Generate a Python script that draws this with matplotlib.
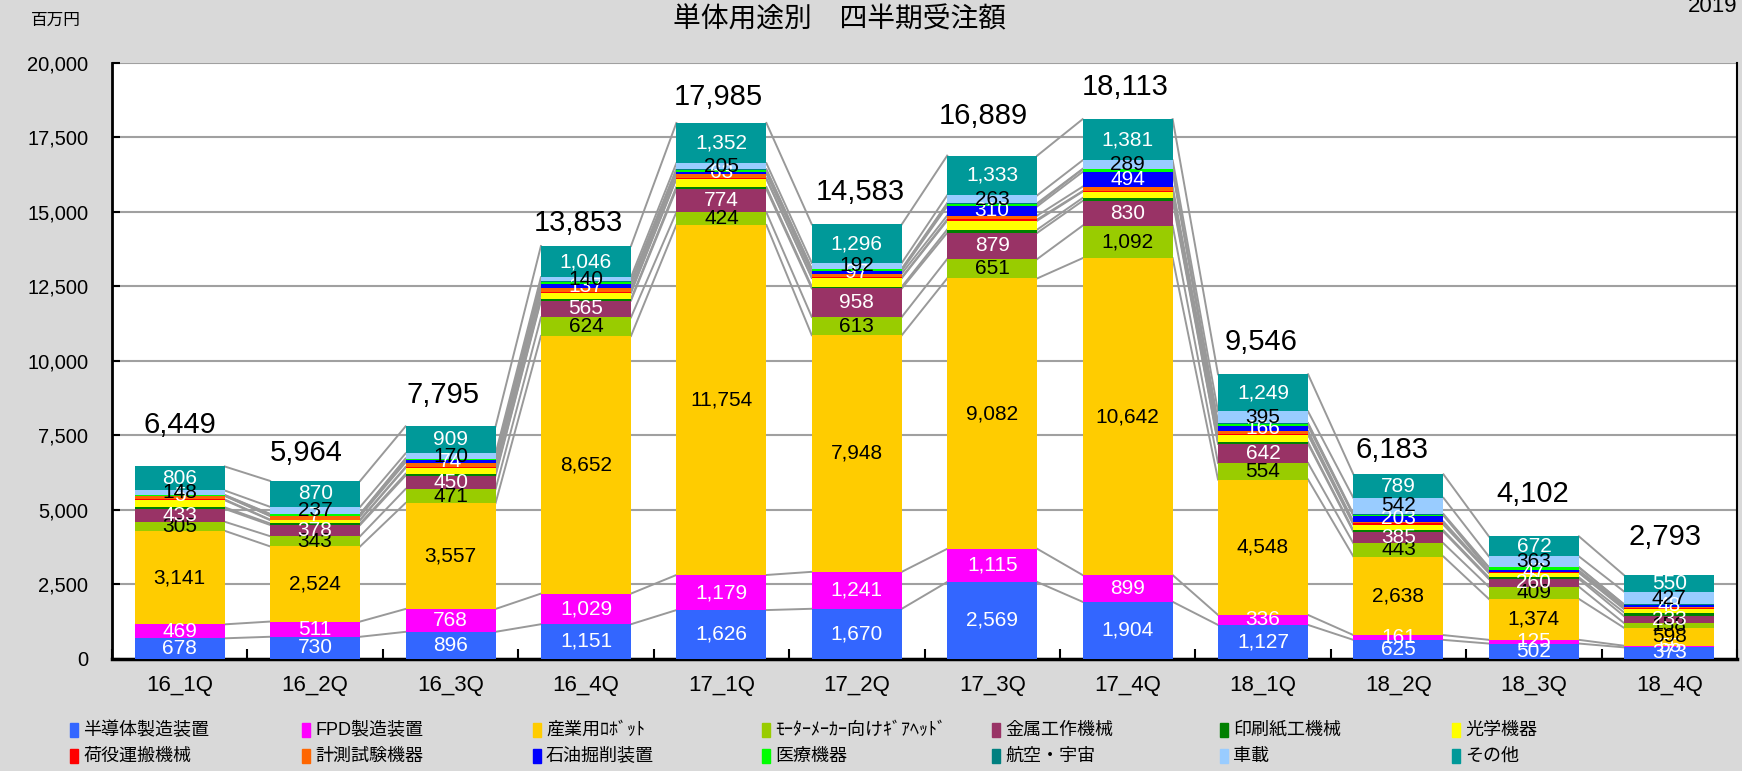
import numpy as np
import matplotlib.pyplot as plt
from matplotlib.patches import Rectangle
from matplotlib.ticker import FuncFormatter, MultipleLocator

plt.rcParams['font.family'] = ['Liberation Sans', 'Noto Sans CJK JP', 'DejaVu Sans']

quarters = ['16_1Q', '16_2Q', '16_3Q', '16_4Q', '17_1Q', '17_2Q',
            '17_3Q', '17_4Q', '18_1Q', '18_2Q', '18_3Q', '18_4Q']

# stacked series, bottom to top (values in 百万円)
semi = [678, 730, 896, 1151, 1626, 1670, 2569, 1904, 1127, 625, 502, 373]
fpd = [469, 511, 768, 1029, 1179, 1241, 1115, 899, 336, 161, 125, 55]
robot = [3141, 2524, 3557, 8652, 11754, 7948, 9082, 10642, 4548, 2638, 1374, 598]
motor = [305, 343, 471, 624, 424, 613, 651, 1092, 554, 443, 409, 158]
metal = [433, 378, 450, 565, 774, 958, 879, 830, 642, 385, 260, 233]
printing = [50, 50, 60, 50, 80, 60, 110, 100, 50, 47, 55, 126]
optical = [240, 110, 200, 215, 270, 290, 300, 210, 255, 190, 150, 110]
handling = [25, 20, 30, 20, 20, 20, 40, 20, 20, 60, 15, 30]
measure = [120, 120, 150, 130, 150, 130, 130, 150, 110, 50, 20, 60]
oil = [5, 7, 74, 137, 63, 97, 310, 494, 166, 203, 47, 48]
medical = [15, 55, 40, 80, 70, 50, 70, 90, 80, 10, 100, 15]
aero = [14, 9, 20, 14, 18, 18, 37, 12, 14, 40, 10, 10]
auto = [148, 237, 170, 140, 205, 192, 263, 289, 395, 542, 363, 427]
other = [806, 870, 909, 1046, 1352, 1296, 1333, 1381, 1249, 789, 672, 550]

names = ['半導体製造装置', 'FPD製造装置', '産業用ﾛﾎﾞｯﾄ', 'ﾓｰﾀｰﾒｰｶｰ向けｷﾞｱﾍｯﾄﾞ',
         '金属工作機械', '印刷紙工機械', '光学機器', '荷役運搬機械', '計測試験機器',
         '石油掘削装置', '医療機器', '航空・宇宙', '車載', 'その他']
series = [semi, fpd, robot, motor, metal, printing, optical, handling,
          measure, oil, medical, aero, auto, other]
colors = ['#3366FF', '#FF00FF', '#FFCC00', '#99CC00', '#993366', '#008000',
          '#FFFF00', '#FF0000', '#FF6600', '#0000FF', '#00FF00', '#008080',
          '#99CCFF', '#009999']
# label colour for segments that carry a data label (None = no label)
label_colors = ['white', 'white', 'black', 'black', 'white', None, None, None,
                None, 'white', None, None, 'black', 'white']

# hand placed total labels in the original (pixel offsets from bar top centre)
total_dx = [0, -9, -8, -8, -3, 4, -9, -2, -2, -6, -1, -4]
total_dy = [41, 28, 31, 23, 26, 32, 40, 32, 32, 24, 42, 38]

W, H = 1742, 771
fig = plt.figure(figsize=(W / 100, H / 100), dpi=100, facecolor='#D9D9D9')
ax = fig.add_axes([112 / W, 112.5 / H, (1737 - 112) / W, (658.5 - 63) / H])
ax.set_facecolor('white')

x = np.arange(len(quarters))
width = 0.665
bottom = np.zeros(len(quarters))
tops = []
for vals, c, lc in zip(series, colors, label_colors):
    vals = np.array(vals)
    ax.bar(x, vals, width, bottom=bottom, color=c, zorder=3)
    if lc is not None:
        for xi, b, v in zip(x, bottom, vals):
            ax.text(xi, b + v / 2, f'{v:,}', ha='center', va='center',
                    color=lc, fontsize=15, zorder=5)
    bottom = bottom + vals
    tops.append(bottom.copy())

# series lines between adjacent bars
for cum in tops:
    for i in range(len(x) - 1):
        ax.plot([x[i] + width / 2, x[i + 1] - width / 2], [cum[i], cum[i + 1]],
                color='#999999', lw=1.4, zorder=2)

for xi, t, dx, dy in zip(x, bottom, total_dx, total_dy):
    ax.annotate(f'{int(t):,}', (xi, t), xytext=(dx * 0.72, dy * 0.72),
                textcoords='offset points', ha='center', va='center',
                fontsize=21, zorder=5)

ax.set_xlim(-0.5, len(x) - 0.5)
ax.set_ylim(0, 20000)
ax.yaxis.set_major_locator(MultipleLocator(2500))
ax.yaxis.set_major_formatter(FuncFormatter(lambda v, p: f'{int(v):,}'))
ax.yaxis.grid(True, color='#A0A0A0', lw=1.5, zorder=0)
ax.set_axisbelow(True)
ax.tick_params(axis='y', direction='in', length=6, width=1.5, labelsize=14.5, pad=17)
ax.set_xticks(x)
ax.set_xticklabels(quarters, fontsize=16)
ax.set_xticks(np.arange(-0.5, len(x)), minor=True)
ax.tick_params(axis='x', which='major', length=0, pad=12)
ax.tick_params(axis='x', which='minor', direction='in', length=7, width=1.5)
for side, lw in [('left', 2), ('bottom', 2.5), ('right', 1.5), ('top', 0)]:
    ax.spines[side].set_linewidth(lw)
    ax.spines[side].set_color('black')
ax.spines['top'].set_visible(False)

fig.text(839 / W, 1 - 20 / H, '単体用途別　四半期受注額', ha='center', va='center', fontsize=20)
fig.text(31 / W, 1 - 20 / H, '百万円', ha='left', va='center', fontsize=12)
fig.text(1688 / W, 1 - 7 / H, '2019', ha='left', va='center', fontsize=16)

# legend, two rows of seven, laid out row by row
col_x = [70, 302, 533, 762, 992, 1220, 1452]
row_y = [730, 756]
for k, (n, c) in enumerate(zip(names, colors)):
    cx = col_x[k % 7]
    cy = row_y[k // 7]
    fig.patches.append(Rectangle((cx / W, 1 - (cy + 7) / H), 8 / W, 14 / H,
                                 transform=fig.transFigure, color=c))
    fig.text((cx + 13) / W, 1 - cy / H, n, ha='left', va='center', fontsize=13)

fig.savefig('out.png', dpi=100, facecolor=fig.get_facecolor())
